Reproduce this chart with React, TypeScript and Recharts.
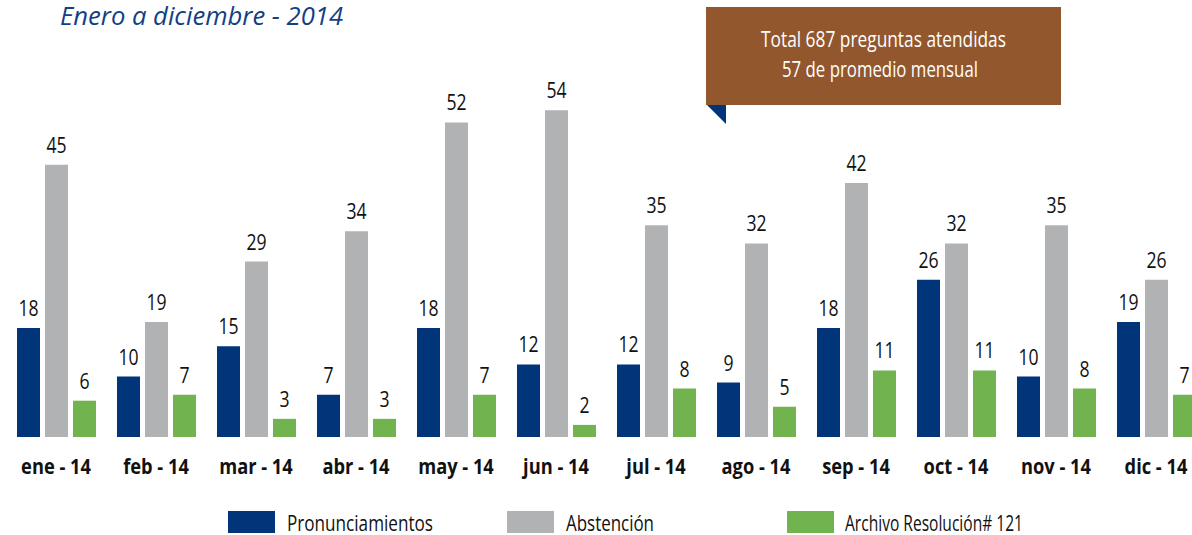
import React from 'react';
import { BarChart, Bar, XAxis, YAxis, LabelList } from 'recharts';

const months = ['ene - 14', 'feb - 14', 'mar - 14', 'abr - 14', 'may - 14', 'jun - 14', 'jul - 14', 'ago - 14', 'sep - 14', 'oct - 14', 'nov - 14', 'dic - 14'];
const pronunciamientos = [18, 10, 15, 7, 18, 12, 12, 9, 18, 26, 10, 19];
const abstencion = [45, 19, 29, 34, 52, 54, 35, 32, 42, 32, 35, 26];
const archivo = [6, 7, 3, 3, 7, 2, 8, 5, 11, 11, 8, 7];
const seriesNames = ['Pronunciamientos', 'Abstención', 'Archivo Resolución# 121'];
const colors = ['#00357a', '#b1b2b4', '#70b34f'];
const titleText = 'Enero a diciembre - 2014';
const boxLines = ['Total 687 preguntas atendidas', '57 de promedio mensual'];

const data = months.map((m, i) => ({
  month: m,
  p: pronunciamientos[i],
  a: abstencion[i],
  r: archivo[i],
}));

const FONT = "'Open Sans', 'Liberation Sans', sans-serif";

const ValueLabel = (props: any) => {
  const { x, y, width, value } = props;
  const cx = Number(x) + Number(width) / 2;
  return (
    <text
      transform={`translate(${cx},${Number(y) - 12}) scale(0.8,1)`}
      textAnchor="middle"
      fill="#111"
      fontSize={22}
      fontFamily={FONT}
    >
      {value}
    </text>
  );
};

const MonthTick = (props: any) => {
  const { x, payload } = props;
  return (
    <text
      transform={`translate(${x},474) scale(0.87,1)`}
      textAnchor="middle"
      fill="#111"
      fontSize={21}
      fontWeight="bold"
      fontFamily={FONT}
    >
      {payload.value}
    </text>
  );
};

const legendItems = [
  { name: seriesNames[0], color: colors[0], x: 228, tx: 287, tw: 146 },
  { name: seriesNames[1], color: colors[1], x: 507, tx: 566, tw: 88 },
  { name: seriesNames[2], color: colors[2], x: 787, tx: 845, tw: 178 },
];

export default function App() {
  return (
    <div style={{ position: 'absolute', left: 0, top: 0, width: 1192, height: 535, overflow: 'hidden', background: '#fff' }}>
      <BarChart
        width={1206}
        height={535}
        data={data}
        margin={{ top: 74, right: 0, bottom: 0, left: 6 }}
        barGap={5}
        barCategoryGap={10}
      >
        <XAxis
          dataKey="month"
          axisLine={false}
          tickLine={false}
          interval={0}
          height={98}
          tick={<MonthTick />}
        />
        <YAxis hide domain={[0, 60]} />
        {(['p', 'a', 'r'] as const).map((k, i) => (
          <Bar key={k} dataKey={k} name={seriesNames[i]} fill={colors[i]} barSize={23} isAnimationActive={false}>
            <LabelList dataKey={k} content={<ValueLabel />} />
          </Bar>
        ))}
      </BarChart>
      <svg style={{ position: 'absolute', left: 0, top: 0 }} width={1192} height={535}>
        <text x={60} y={25} fontFamily={FONT} fontStyle="italic" fontSize={25} fill="#123f85" textLength={283} lengthAdjust="spacingAndGlyphs">
          {titleText}
        </text>
        <rect x={706} y={7} width={355} height={98} fill="#93572e" />
        <polygon points="707,105 726,105 726,124" fill="#00357a" />
        <text x={761} y={47} fontFamily={FONT} fontSize={21} fill="#fff" textLength={245} lengthAdjust="spacingAndGlyphs">
          {boxLines[0]}
        </text>
        <text x={782} y={77} fontFamily={FONT} fontSize={21} fill="#fff" textLength={196} lengthAdjust="spacingAndGlyphs">
          {boxLines[1]}
        </text>
        {legendItems.map((it) => (
          <g key={it.name}>
            <rect x={it.x} y={511} width={47} height={22} fill={it.color} />
            <text x={it.tx} y={531} fontFamily={FONT} fontSize={22} fill="#111" textLength={it.tw} lengthAdjust="spacingAndGlyphs">
              {it.name}
            </text>
          </g>
        ))}
      </svg>
    </div>
  );
}
